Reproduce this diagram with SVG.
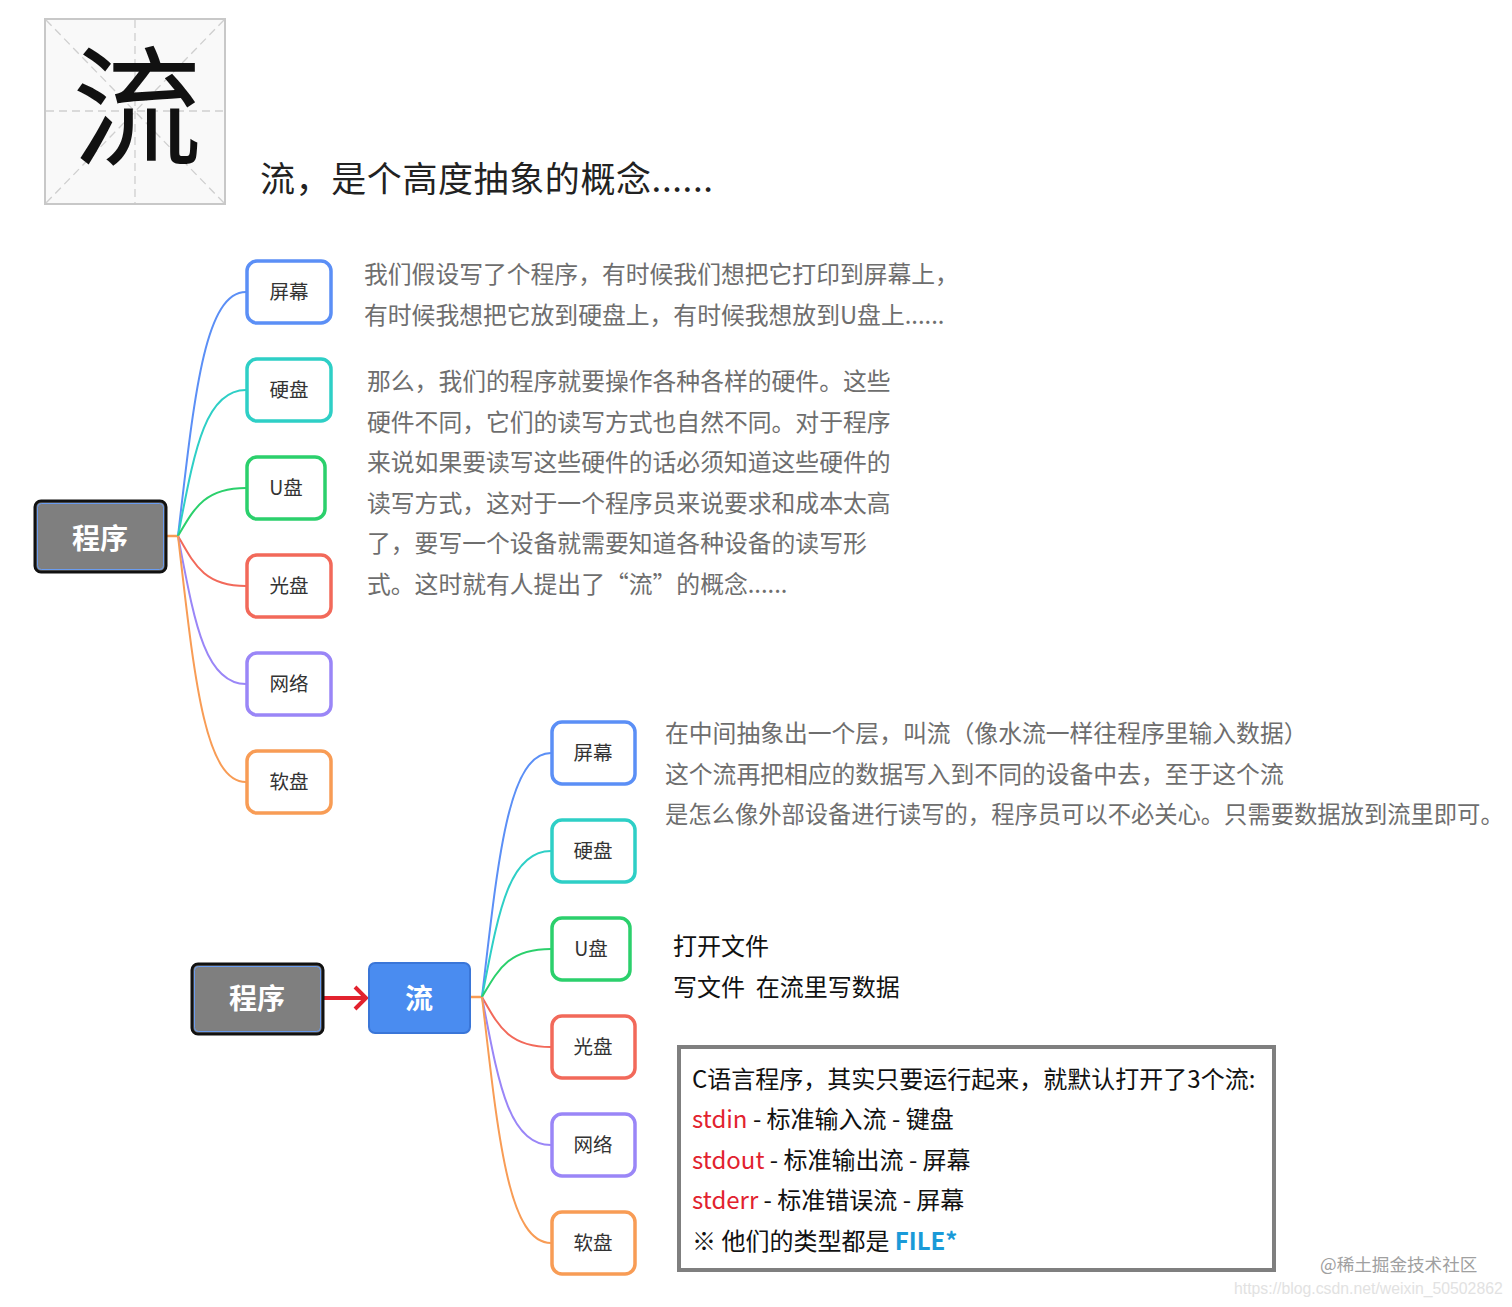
<svg xmlns="http://www.w3.org/2000/svg" width="1512" height="1307" viewBox="0 0 1512 1307">
<style>
text{font-family:"Noto Sans CJK SC","Liberation Sans",sans-serif}
.leaf{fill:#fff;stroke-width:3.5}
.leaftxt{font-size:19.5px;fill:#333;text-anchor:middle}
.rootbox{fill:#7f7f7f;stroke:#111;stroke-width:3}
.rootin{fill:none;stroke:#6a9cf0;stroke-width:1}
.roottxt{font-size:28px;font-weight:700;fill:#fff;text-anchor:middle}
.para{font-size:23.8px;fill:#6e6e6e}
.blk{font-size:24px;fill:#111}
.red{fill:#e2222e}
.conn{fill:none;stroke-width:2}
.grid{stroke:#cfcfcf;stroke-width:1.3;stroke-dasharray:8 5}
</style>
<rect width="1512" height="1307" fill="#fff"/>

<g id="hero">
<rect x="45" y="19" width="180" height="185" fill="#f9f9f9" stroke="#c8c8c8" stroke-width="2"/>
<line class="grid" x1="135" y1="20" x2="135" y2="203"/>
<line class="grid" x1="46" y1="111" x2="224" y2="111"/>
<line class="grid" x1="46" y1="20" x2="224" y2="203"/>
<line class="grid" x1="224" y1="20" x2="46" y2="203"/>
<text x="137" y="155" font-size="130" font-weight="400" fill="#111" text-anchor="middle">流</text>
</g>
<text id="title" x="260" y="192" font-size="35" letter-spacing="0.6" fill="#222">流，是个高度抽象的概念......</text>

<g id="connectors">
<path d="M166,536 H178" stroke="#f89c55" stroke-width="2.5"/>
<path class="conn" stroke="#5b8ff6" d="M178,536 C194,399 204,292 246,292"/>
<path class="conn" stroke="#2ecfc6" d="M178,536 C194,454 204,390 246,390"/>
<path class="conn" stroke="#2bd06c" d="M178,536 C194,509 204,488 246,488"/>
<path class="conn" stroke="#f2695a" d="M178,536 C194,564 204,586 246,586"/>
<path class="conn" stroke="#9a86f7" d="M178,536 C194,619 204,684 246,684"/>
<path class="conn" stroke="#f89c55" d="M178,536 C194,674 204,782 246,782"/>

<path d="M470,997 H482" stroke="#f89c55" stroke-width="2.5"/>
<path class="conn" stroke="#5b8ff6" d="M482,997 C498,860 508,753 551,753"/>
<path class="conn" stroke="#2ecfc6" d="M482,997 C498,915 508,851 551,851"/>
<path class="conn" stroke="#2bd06c" d="M482,997 C498,970 508,949 551,949"/>
<path class="conn" stroke="#f2695a" d="M482,997 C498,1025 508,1047 551,1047"/>
<path class="conn" stroke="#9a86f7" d="M482,997 C498,1080 508,1145 551,1145"/>
<path class="conn" stroke="#f89c55" d="M482,997 C498,1135 508,1243 551,1243"/>

<line x1="324" y1="998" x2="365" y2="998" stroke="#e2222e" stroke-width="4"/>
<polyline points="355,987 366,998 355,1009" fill="none" stroke="#e2222e" stroke-width="4" stroke-linejoin="miter"/>
</g>

<g id="root1">
<rect class="rootbox" x="35" y="501" width="131" height="71" rx="6"/>
<rect class="rootin" x="37.5" y="503.5" width="126" height="66" rx="4"/>
<text class="roottxt" x="100" y="549">程序</text>
</g>
<g id="n1-screen"><rect class="leaf" stroke="#5b8ff6" x="247" y="261" width="84" height="62" rx="10"/><text class="leaftxt" x="289" y="299">屏幕</text></g>
<g id="n1-hdd"><rect class="leaf" stroke="#2ecfc6" x="247" y="359" width="84" height="62" rx="10"/><text class="leaftxt" x="289" y="397">硬盘</text></g>
<g id="n1-usb"><rect class="leaf" stroke="#2bd06c" x="247" y="457" width="78" height="62" rx="10"/><text class="leaftxt" x="286" y="495">U盘</text></g>
<g id="n1-cd"><rect class="leaf" stroke="#f2695a" x="247" y="555" width="84" height="62" rx="10"/><text class="leaftxt" x="289" y="593">光盘</text></g>
<g id="n1-net"><rect class="leaf" stroke="#9a86f7" x="247" y="653" width="84" height="62" rx="10"/><text class="leaftxt" x="289" y="691">网络</text></g>
<g id="n1-floppy"><rect class="leaf" stroke="#f89c55" x="247" y="751" width="84" height="62" rx="10"/><text class="leaftxt" x="289" y="789">软盘</text></g>

<g id="text1" class="para">
<text x="364" y="283">我们假设写了个程序，有时候我们想把它打印到屏幕上，</text>
<text x="364" y="324">有时候我想把它放到硬盘上，有时候我想放到U盘上......</text>
</g>
<g id="text2" class="para">
<text x="367" y="390">那么，我们的程序就要操作各种各样的硬件。这些</text>
<text x="367" y="431">硬件不同，它们的读写方式也自然不同。对于程序</text>
<text x="367" y="471">来说如果要读写这些硬件的话必须知道这些硬件的</text>
<text x="367" y="512">读写方式，这对于一个程序员来说要求和成本太高</text>
<text x="367" y="552">了，要写一个设备就需要知道各种设备的读写形</text>
<text x="367" y="593">式。这时就有人提出了“流”的概念......</text>
</g>

<g id="root2">
<rect class="rootbox" x="192" y="964" width="131" height="70" rx="6"/>
<rect class="rootin" x="194.5" y="966.5" width="126" height="65" rx="4"/>
<text class="roottxt" x="257" y="1009">程序</text>
</g>
<g id="stream">
<rect x="369" y="963" width="101" height="70" rx="6" fill="#4a8cf0" stroke="#3a76d8" stroke-width="2"/>
<text class="roottxt" x="419" y="1009">流</text>
</g>
<g id="n2-screen"><rect class="leaf" stroke="#5b8ff6" x="552" y="722" width="83" height="62" rx="10"/><text class="leaftxt" x="593" y="760">屏幕</text></g>
<g id="n2-hdd"><rect class="leaf" stroke="#2ecfc6" x="552" y="820" width="83" height="62" rx="10"/><text class="leaftxt" x="593" y="858">硬盘</text></g>
<g id="n2-usb"><rect class="leaf" stroke="#2bd06c" x="552" y="918" width="78" height="62" rx="10"/><text class="leaftxt" x="591" y="956">U盘</text></g>
<g id="n2-cd"><rect class="leaf" stroke="#f2695a" x="552" y="1016" width="83" height="62" rx="10"/><text class="leaftxt" x="593" y="1054">光盘</text></g>
<g id="n2-net"><rect class="leaf" stroke="#9a86f7" x="552" y="1114" width="83" height="62" rx="10"/><text class="leaftxt" x="593" y="1152">网络</text></g>
<g id="n2-floppy"><rect class="leaf" stroke="#f89c55" x="552" y="1212" width="83" height="62" rx="10"/><text class="leaftxt" x="593" y="1250">软盘</text></g>

<g id="text3" class="para">
<text x="665" y="742">在中间抽象出一个层，叫流（像水流一样往程序里输入数据）</text>
<text x="665" y="783">这个流再把相应的数据写入到不同的设备中去，至于这个流</text>
<text x="665" y="823" font-size="23.3">是怎么像外部设备进行读写的，程序员可以不必关心。只需要数据放到流里即可。</text>
</g>

<g id="text4" class="blk">
<text x="673" y="955">打开文件</text>
<text x="673" y="996" xml:space="preserve">写文件  在流里写数据</text>
</g>

<g id="infobox">
<rect x="679" y="1047" width="595" height="223" fill="#fff" stroke="#7f7f7f" stroke-width="4"/>
<text class="blk" x="692" y="1088">C语言程序，其实只要运行起来，就默认打开了3个流:</text>
<text class="blk" x="692" y="1128"><tspan class="red">stdin</tspan> - 标准输入流 - 键盘</text>
<text class="blk" x="692" y="1169"><tspan class="red">stdout</tspan> - 标准输出流 - 屏幕</text>
<text class="blk" x="692" y="1209"><tspan class="red">stderr</tspan> - 标准错误流 - 屏幕</text>
<text class="blk" x="692" y="1250">※ 他们的类型都是 <tspan fill="#1a9ad8" font-weight="700">FILE*</tspan></text>
</g>

<text x="1320" y="1271" font-size="17.6" fill="#a0a0a0">@稀土掘金技术社区</text>
<text x="1234" y="1294" font-size="15.8" fill="#e2e2e2" style="font-family:'Liberation Sans',sans-serif">https://blog.csdn.net/weixin_50502862</text>
</svg>
